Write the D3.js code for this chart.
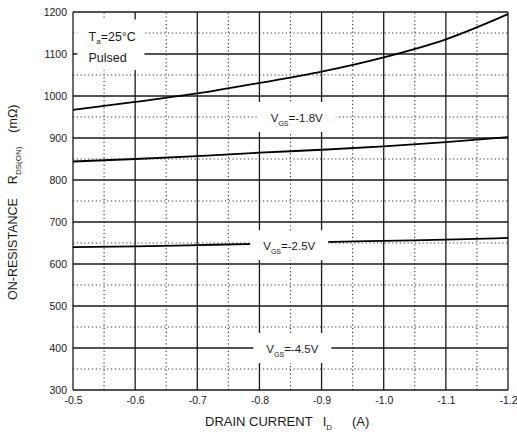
<!DOCTYPE html>
<html><head><meta charset="utf-8">
<script src="https://cdn.jsdelivr.net/npm/d3@7"></script>
<style>
body{margin:0;background:#fff;}
svg{display:block;font-family:"Liberation Sans",Arial,sans-serif;}
</style></head>
<body><svg id="c" width="517" height="435"></svg>
<script>
const current = [-0.5,-0.6,-0.7,-0.8,-0.9,-1.0,-1.1,-1.2];
const curveTop = [967,986,1006,1031,1058,1092,1135,1195];
const curve18 = [844,850,857,865,872,880,890,902];
const curve25 = [640,642,645,648,652,655,658,662];
const xTicks = [-0.5,-0.6,-0.7,-0.8,-0.9,-1.0,-1.1,-1.2];
const xTickLabels = ["-0.5","-0.6","-0.7","-0.8","-0.9","-1.0","-1.1","-1.2"];
const yTicks = [300,400,500,600,700,800,900,1000,1100,1200];
const xMinor = [-0.55,-0.65,-0.75,-0.85,-0.95,-1.05,-1.15];
const yMinor = [350,450,550,650,750,850,950,1050,1150];
const curveLabels = [
  {v:"-1.8V", x:-0.86, y:950},
  {v:"-2.5V", x:-0.848, y:645},
  {v:"-4.5V", x:-0.853, y:400}
];

const W=517,H=435, m={l:73,r:9,t:12,b:45};
const svg=d3.select("#c");
const x=d3.scaleLinear().domain([-0.5,-1.2]).range([m.l,W-m.r]);
const y=d3.scaleLinear().domain([300,1200]).range([H-m.b,m.t]);
const ink="#1a1a1a";

const g=svg.append("g");
// minor dotted grid
g.selectAll(".vx").data(xMinor).join("line")
  .attr("x1",d=>x(d)).attr("x2",d=>x(d)).attr("y1",y(300)).attr("y2",y(1200))
  .attr("stroke","#333").attr("stroke-width",1.1).attr("stroke-dasharray","1.2,2.6");
g.selectAll(".hy").data(yMinor).join("line")
  .attr("y1",d=>y(d)).attr("y2",d=>y(d)).attr("x1",x(-0.5)).attr("x2",x(-1.2))
  .attr("stroke","#333").attr("stroke-width",1.1).attr("stroke-dasharray","1.2,2.6");
// major solid grid
g.selectAll(".mx").data(xTicks).join("line")
  .attr("x1",d=>x(d)).attr("x2",d=>x(d)).attr("y1",y(300)).attr("y2",y(1200))
  .attr("stroke",ink).attr("stroke-width",1.3);
g.selectAll(".my").data(yTicks).join("line")
  .attr("y1",d=>y(d)).attr("y2",d=>y(d)).attr("x1",x(-0.5)).attr("x2",x(-1.2))
  .attr("stroke",ink).attr("stroke-width",1.3);

// curves
const line=d3.line().x((d,i)=>x(current[i])).y(d=>y(d)).curve(d3.curveMonotoneX);
[curveTop,curve18,curve25].forEach(s=>{
  svg.append("path").datum(s).attr("d",line).attr("fill","none")
    .attr("stroke","#000").attr("stroke-width",1.8);
});

// axes labels via d3 axes
const xAxis=d3.axisBottom(x).tickValues(xTicks).tickFormat((d,i)=>xTickLabels[i]).tickSize(0).tickPadding(7);
const xa=svg.append("g").attr("transform",`translate(0,${H-m.b})`).call(xAxis);
xa.select(".domain").remove();
xa.selectAll("text").attr("font-size",10.5).attr("fill",ink).attr("font-family","Liberation Sans, Arial, sans-serif");
const yAxis=d3.axisLeft(y).tickValues(yTicks).tickFormat(d3.format("d")).tickSize(0).tickPadding(6);
const ya=svg.append("g").attr("transform",`translate(${m.l},0)`).call(yAxis);
ya.select(".domain").remove();
ya.selectAll("text").attr("font-size",10.5).attr("fill",ink).attr("font-family","Liberation Sans, Arial, sans-serif");

// condition box
const bx=x(-0.507), by=y(1182);
svg.append("rect").attr("x",bx).attr("y",by).attr("width",x(-0.615)-bx).attr("height",y(1062)-by).attr("fill","#fff");
const t1=svg.append("text").attr("x",x(-0.525)).attr("y",y(1131)).attr("font-size",12.5).attr("fill",ink);
t1.append("tspan").text("T");
t1.append("tspan").attr("font-size",8).attr("dy",3).text("a");
t1.append("tspan").attr("dy",-3).text("=25°C");
svg.append("text").attr("x",x(-0.525)).attr("y",y(1081)).attr("font-size",12.5).attr("fill",ink).text("Pulsed");

// curve labels
curveLabels.forEach(c=>{
  const cx=x(c.x), cy=y(c.y);
  svg.append("rect").attr("x",cx-39).attr("y",cy-15).attr("width",78).attr("height",30).attr("fill","#fff");
  const t=svg.append("text").attr("x",cx).attr("y",cy+5).attr("text-anchor","middle").attr("font-size",11.5).attr("fill",ink);
  t.append("tspan").text("V");
  t.append("tspan").attr("font-size",7).attr("dy",4).text("GS");
  t.append("tspan").attr("dy",-4).text("=" + c.v);
});

// axis titles
const xt=svg.append("text").attr("x",205).attr("y",H-9).attr("font-size",13).attr("fill",ink);
xt.append("tspan").text("DRAIN CURRENT");
xt.append("tspan").attr("dx",10).text("I");
xt.append("tspan").attr("font-size",8).attr("dy",4).text("D");
xt.append("tspan").attr("dx",20).attr("dy",-4).text("(A)");

const yt=svg.append("text").attr("transform",`translate(17,300) rotate(-90)`).attr("font-size",12.5).attr("fill",ink);
yt.append("tspan").text("ON-RESISTANCE");
yt.append("tspan").attr("dx",14).text("R");
yt.append("tspan").attr("font-size",8).attr("dy",4).text("DS(ON)");
yt.append("tspan").attr("dx",14).attr("dy",-4).text("(mΩ)");
</script></body></html>
